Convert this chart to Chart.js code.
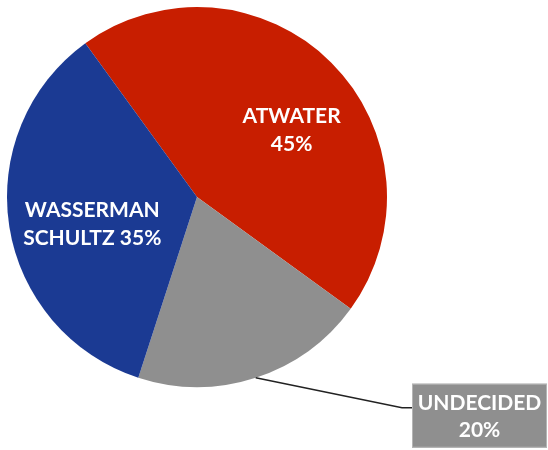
<!DOCTYPE html>
<html>
<head>
<meta charset="utf-8">
<script src="https://cdn.jsdelivr.net/npm/chart.js@4"></script>
<style>
  html, body { margin: 0; padding: 0; background: #fff; }
  #wrap { width: 548px; height: 450px; }
</style>
</head>
<body>
<div id="wrap"><canvas id="pollChart" width="548" height="450"></canvas></div>
<script>
// poll shares
const candidates = ['ATWATER', 'UNDECIDED', 'WASSERMAN SCHULTZ']
const shares = [45, 20, 35]
const sliceColors = ['#c81e00', '#8f8f8f', '#1b3a93']

// label text lines per slice
const labelLines = [
  ['ATWATER', '45%'],
  ['UNDECIDED', '20%'],
  ['WASSERMAN', 'SCHULTZ 35%']
]

const FONT = 'bold 21px Lato, "Open Sans", sans-serif'

// draws the in-slice labels and the callout for the undecided slice
const sliceLabels = {
  id: 'sliceLabels',
  afterDatasetsDraw(chart) {
    const ctx = chart.ctx
    const arcs = chart.getDatasetMeta(0).data
    ctx.save()
    ctx.font = FONT
    ctx.textAlign = 'center'
    ctx.textBaseline = 'middle'
    ctx.fillStyle = '#fff'

    // inside labels: angle offset (rad) from mid-angle and radius fraction
    const inside = { 0: [0.17, 0.61], 2: [-0.1, 0.57] }
    Object.keys(inside).forEach(i => {
      const a = arcs[i]
      const mid = (a.startAngle + a.endAngle) / 2 + inside[i][0]
      const r = a.outerRadius * inside[i][1]
      const x = a.x + Math.cos(mid) * r
      const y = a.y + Math.sin(mid) * r
      ctx.fillText(labelLines[i][0], x, y - 14)
      ctx.fillText(labelLines[i][1], x, y + 14)
    })

    // callout for undecided
    const u = arcs[1]
    const mid = (u.startAngle + u.endAngle) / 2
    const sx = u.x + Math.cos(mid) * u.outerRadius
    const sy = u.y + Math.sin(mid) * u.outerRadius
    const boxL = u.x + u.outerRadius + 25
    const boxT = sy + 6
    const boxW = 135, boxH = 64
    const elbowY = boxT + 24
    ctx.strokeStyle = '#222'
    ctx.lineWidth = 1.5
    ctx.beginPath()
    ctx.moveTo(sx, sy)
    ctx.lineTo(boxL - 10, elbowY)
    ctx.lineTo(boxL, elbowY)
    ctx.stroke()

    ctx.fillStyle = sliceColors[1]
    ctx.fillRect(boxL, boxT, boxW, boxH)
    ctx.strokeStyle = '#b5b5b5'
    ctx.lineWidth = 1
    ctx.strokeRect(boxL + 0.5, boxT + 0.5, boxW - 1, boxH - 1)
    ctx.fillStyle = '#fff'
    ctx.fillText(labelLines[1][0], boxL + boxW / 2, boxT + 20)
    ctx.fillText(labelLines[1][1], boxL + boxW / 2, boxT + 47)
    ctx.restore()
  }
}

new Chart(document.getElementById('pollChart'), {
  type: 'pie',
  data: {
    labels: candidates,
    datasets: [{
      data: shares,
      backgroundColor: sliceColors,
      borderWidth: 0
    }]
  },
  options: {
    responsive: false,
    animation: false,
    rotation: -36,
    layout: { padding: { left: 7, top: 7, right: 161, bottom: 63 } },
    plugins: {
      legend: { display: false },
      tooltip: { enabled: false }
    }
  },
  plugins: [sliceLabels]
})
</script>
</body>
</html>
